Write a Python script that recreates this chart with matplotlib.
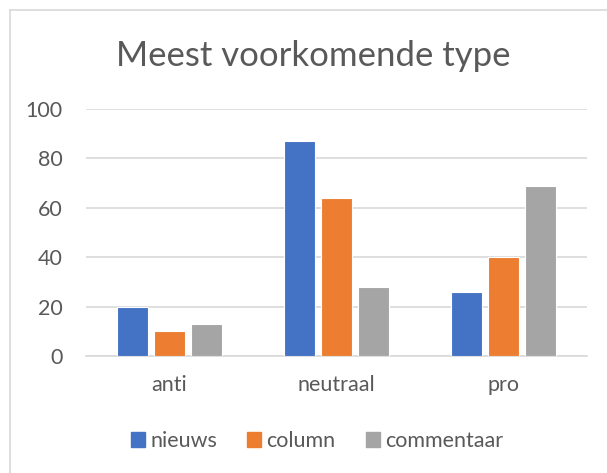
import matplotlib
matplotlib.use("Agg")
import matplotlib.pyplot as plt
import numpy as np
from matplotlib.lines import Line2D

categories = ["anti", "neutraal", "pro"]
series_names = ["nieuws", "column", "commentaar"]
nieuws = [20, 87, 26]
column = [10, 64, 40]
commentaar = [13, 28, 69]
yticks = [0, 20, 40, 60, 80, 100]
colors = ["#4472C4", "#ED7D31", "#A5A5A5"]
title = "Meest voorkomende type"

plt.rcParams['font.family'] = ['Lato', 'DejaVu Sans']
text_color = "#595959"

W, H = 607, 473
fig = plt.figure(figsize=(W / 100, H / 100), dpi=100)
ax = fig.add_axes([86 / W, 1 - 356 / H, (586.7 - 86) / W, (356 - 109) / H])

x = np.arange(len(categories))
step = 0.222
width = 0.185
for i, (vals, name) in enumerate(zip([nieuws, column, commentaar], series_names)):
    ax.bar(x + (i - 1) * step, vals, width, color=colors[i], label=name,
           edgecolor="white", linewidth=0.8, zorder=3)

ax.set_xlim(-0.5, len(categories) - 0.5)
ax.set_ylim(0, 100)
ax.set_yticks(yticks)
ax.set_xticks(x)
ax.set_xticklabels(categories)
ax.grid(axis="y", color="#D9D9D9", linewidth=1.2, zorder=0)
for s in ["top", "right", "left"]:
    ax.spines[s].set_visible(False)
ax.spines["bottom"].set_color("#D9D9D9")
ax.spines["bottom"].set_linewidth(1.2)
ax.tick_params(axis="both", length=0, labelsize=15.5, labelcolor=text_color)
ax.tick_params(axis="y", pad=17)
ax.tick_params(axis="x", pad=14)

fig.text(313 / W, 1 - 66 / H, title, ha="center", va="baseline",
         fontsize=25, color=text_color)

handles = [plt.Rectangle((0, 0), 1, 1, color=c) for c in colors]
leg = fig.legend(handles, series_names, loc="center", bbox_to_anchor=(317 / W, 1 - 441 / H),
                 ncol=3, frameon=False, fontsize=15.5, handlelength=0.65, handleheight=0.65,
                 handletextpad=0.25, columnspacing=1.4, labelcolor=text_color,
                 borderpad=0, borderaxespad=0)

# chart border (partially visible)
fig.add_artist(Line2D([10 / W, 10 / W], [0, 1 - 10 / H], transform=fig.transFigure,
                      color="#D9D9D9", linewidth=1.2))
fig.add_artist(Line2D([10 / W, 1], [1 - 10 / H, 1 - 10 / H], transform=fig.transFigure,
                      color="#D9D9D9", linewidth=1.2))

fig.savefig("out.png", dpi=100)
